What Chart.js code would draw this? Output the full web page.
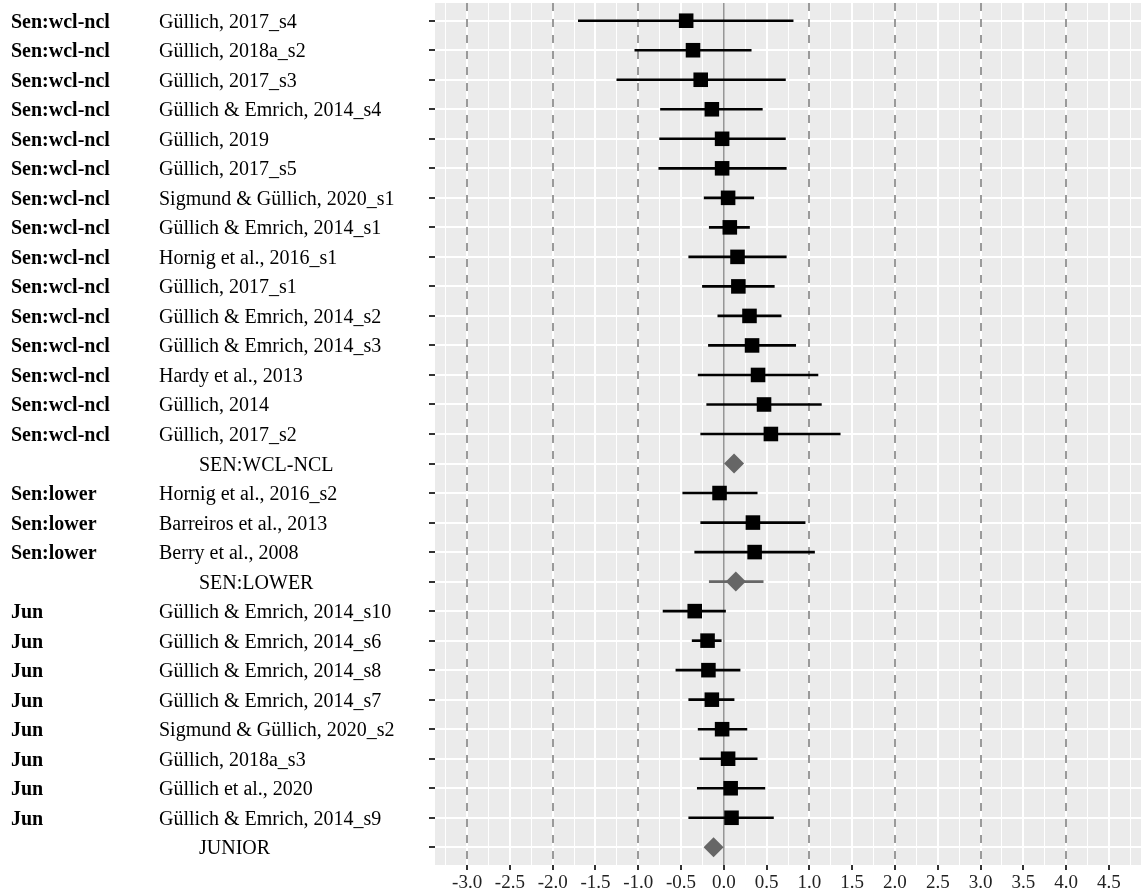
<!DOCTYPE html>
<html>
<head>
<meta charset="utf-8">
<script src="https://cdn.jsdelivr.net/npm/chart.js@4.4.1/dist/chart.umd.min.js"></script>
<style>
  body { margin: 0; background: #fff; }
  #wrap { width: 1141px; height: 896px; }
</style>
</head>
<body>
<div id="wrap"><canvas id="forest" width="1141" height="896"></canvas></div>
<script>
// Groep per rij (lege string = samenvattingsrij)
const groups = [
  "Sen:wcl-ncl", "Sen:wcl-ncl", "Sen:wcl-ncl", "Sen:wcl-ncl", "Sen:wcl-ncl",
  "Sen:wcl-ncl", "Sen:wcl-ncl", "Sen:wcl-ncl", "Sen:wcl-ncl", "Sen:wcl-ncl",
  "Sen:wcl-ncl", "Sen:wcl-ncl", "Sen:wcl-ncl", "Sen:wcl-ncl", "Sen:wcl-ncl",
  "",
  "Sen:lower", "Sen:lower", "Sen:lower",
  "",
  "Jun", "Jun", "Jun", "Jun", "Jun", "Jun", "Jun", "Jun",
  ""
];

const studies = [
  "Güllich, 2017_s4", "Güllich, 2018a_s2", "Güllich, 2017_s3",
  "Güllich & Emrich, 2014_s4", "Güllich, 2019", "Güllich, 2017_s5",
  "Sigmund & Güllich, 2020_s1", "Güllich & Emrich, 2014_s1", "Hornig et al., 2016_s1",
  "Güllich, 2017_s1", "Güllich & Emrich, 2014_s2", "Güllich & Emrich, 2014_s3",
  "Hardy et al., 2013", "Güllich, 2014", "Güllich, 2017_s2",
  "SEN:WCL-NCL",
  "Hornig et al., 2016_s2", "Barreiros et al., 2013", "Berry et al., 2008",
  "SEN:LOWER",
  "Güllich & Emrich, 2014_s10", "Güllich & Emrich, 2014_s6", "Güllich & Emrich, 2014_s8",
  "Güllich & Emrich, 2014_s7", "Sigmund & Güllich, 2020_s2", "Güllich, 2018a_s3",
  "Güllich et al., 2020", "Güllich & Emrich, 2014_s9",
  "JUNIOR"
];

// Effectgrootte en betrouwbaarheidsinterval
const estimate = [
  -0.44, -0.36, -0.27, -0.14, -0.02, -0.02, 0.05, 0.07, 0.16, 0.17,
  0.30, 0.33, 0.40, 0.47, 0.55,
  0.12,
  -0.05, 0.34, 0.36,
  0.14,
  -0.34, -0.19, -0.18, -0.14, -0.02, 0.05, 0.08, 0.09,
  -0.12
];
const lower = [
  -1.70, -1.04, -1.25, -0.74, -0.75, -0.76, -0.23, -0.17, -0.41, -0.25,
  -0.07, -0.18, -0.30, -0.20, -0.27,
  null,
  -0.48, -0.27, -0.34,
  -0.17,
  -0.71, -0.37, -0.56, -0.41, -0.30, -0.28, -0.31, -0.41,
  null
];
const upper = [
  0.81, 0.32, 0.72, 0.45, 0.72, 0.73, 0.35, 0.30, 0.73, 0.59,
  0.67, 0.84, 1.10, 1.14, 1.36,
  null,
  0.39, 0.95, 1.06,
  0.46,
  0.02, -0.03, 0.19, 0.12, 0.27, 0.39, 0.48, 0.58,
  null
];

// Verticale stippellijnen
const refLines = [-3, -2, -1, 1, 2, 3, 4];
const xTicks = [-3.0, -2.5, -2.0, -1.5, -1.0, -0.5, 0.0, 0.5, 1.0, 1.5, 2.0, 2.5, 3.0, 3.5, 4.0, 4.5];

const isSummary = groups.map(g => g === "");
const rowNums = groups.map((g, i) => i + 1);
const FONT = "'Liberation Serif', 'Times New Roman', serif";

const isMajor = v => Math.abs(v * 2 - Math.round(v * 2)) < 1e-6;
const markColor = row => isSummary[row - 1] ? "#666666" : "#000000";

// Grijs paneel
const panelBg = {
  id: "panelBg",
  beforeDraw(chart) {
    const { ctx, chartArea: a } = chart;
    ctx.save();
    ctx.fillStyle = "#EBEBEB";
    ctx.fillRect(a.left, a.top, a.right - a.left, a.bottom - a.top);
    ctx.restore();
  }
};

// Nullijn en stippellijnen boven het raster
const refLinePlugin = {
  id: "refLines",
  beforeDatasetsDraw(chart) {
    const { ctx, chartArea: a, scales } = chart;
    ctx.save();
    ctx.strokeStyle = "#9a9a9a";
    ctx.lineWidth = 2;
    ctx.setLineDash([8, 8]);
    refLines.forEach(v => {
      const x = Math.round(scales.x.getPixelForValue(v));
      ctx.beginPath();
      ctx.moveTo(x, a.top);
      ctx.lineTo(x, a.bottom);
      ctx.stroke();
    });
    ctx.setLineDash([]);
    ctx.strokeStyle = "#8f8f8f";
    ctx.lineWidth = 1.5;
    const x0 = scales.x.getPixelForValue(0);
    ctx.beginPath();
    ctx.moveTo(x0, a.top);
    ctx.lineTo(x0, a.bottom);
    ctx.stroke();
    ctx.restore();
  }
};

// Tekstkolommen links
const rowLabels = {
  id: "rowLabels",
  afterDraw(chart) {
    const { ctx, scales } = chart;
    ctx.save();
    ctx.fillStyle = "#000";
    ctx.textBaseline = "alphabetic";
    ctx.textAlign = "left";
    groups.forEach((g, i) => {
      const y = scales.y.getPixelForValue(i + 1) + 7;
      if (g) {
        ctx.font = "bold 20px " + FONT;
        ctx.fillText(g, 11, y);
      }
      ctx.font = "20px " + FONT;
      ctx.fillText(studies[i], isSummary[i] ? 199 : 159, y);
    });
    ctx.restore();
  }
};

const intervals = rowNums
  .filter((r, i) => lower[i] !== null)
  .map(r => ({ y: r, x: [lower[r - 1], upper[r - 1]] }));
const points = rowNums.map((r, i) => ({ x: estimate[i], y: r }));

new Chart(document.getElementById("forest"), {
  data: {
    datasets: [
      {
        type: "scatter",
        data: points,
        order: 0,
        pointStyle: isSummary.map(s => s ? "rectRot" : "rect"),
        pointRadius: isSummary.map(s => s ? 10 : 10.3),
        pointHoverRadius: isSummary.map(s => s ? 10 : 10.3),
        backgroundColor: rowNums.map(markColor),
        borderColor: rowNums.map(markColor),
        borderWidth: 0
      },
      {
        type: "bar",
        indexAxis: "y",
        data: intervals,
        order: 1,
        barThickness: 2,
        backgroundColor: ctx => markColor(ctx.raw ? ctx.raw.y : 1),
        borderWidth: 0
      }
    ]
  },
  options: {
    responsive: false,
    animation: false,
    layout: { autoPadding: false, padding: { top: 3, right: 0, bottom: 0, left: 0 } },
    plugins: {
      legend: { display: false },
      tooltip: { enabled: false }
    },
    scales: {
      x: {
        type: "linear",
        position: "bottom",
        min: -3.375,
        max: 4.875,
        offset: false,
        afterBuildTicks(scale) {
          const t = [];
          for (let v = -3.25; v <= 4.76; v += 0.25) t.push({ value: Math.round(v * 100) / 100 });
          scale.ticks = t;
        },
        afterFit(scale) { scale.height = 31; },
        border: { display: false },
        grid: {
          offset: false,
          color: "#ffffff",
          lineWidth: ctx => ctx.tick && isMajor(ctx.tick.value) ? 2 : 1,
          tickColor: ctx => ctx.tick && isMajor(ctx.tick.value) ? "#333333" : "rgba(0,0,0,0)",
          tickLength: 5,
          tickWidth: 2
        },
        ticks: {
          autoSkip: false,
          maxRotation: 0,
          padding: 2,
          color: "#222222",
          font: { family: FONT, size: 19 },
          callback: v => xTicks.some(t => Math.abs(t - v) < 1e-6) ? v.toFixed(1) : ""
        }
      },
      y: {
        type: "linear",
        reverse: true,
        min: 0.4,
        max: 29.6,
        offset: false,
        afterBuildTicks(scale) {
          scale.ticks = rowNums.map(r => ({ value: r }));
        },
        afterFit(scale) { scale.width = 435; },
        border: { display: false },
        grid: {
          offset: false,
          color: "#ffffff",
          lineWidth: 2,
          tickColor: "#333333",
          tickLength: 6,
          tickWidth: 2
        },
        ticks: { display: false }
      }
    }
  },
  plugins: [panelBg, refLinePlugin, rowLabels]
});
</script>
</body>
</html>
